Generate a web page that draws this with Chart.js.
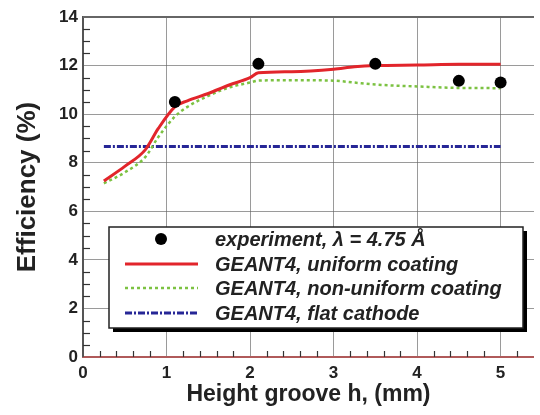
<!DOCTYPE html>
<html>
<head>
<meta charset="utf-8">
<script src="https://cdn.jsdelivr.net/npm/chart.js@4.4.1/dist/chart.umd.min.js"></script>
<style>
  html, body { margin: 0; padding: 0; background: #fff; overflow: hidden; }
  #wrap { width: 540px; height: 415px; }
</style>
</head>
<body>
<div id="wrap"><canvas id="c" width="540" height="415"></canvas></div>
<script>
// Measured efficiency at a neutron wavelength of 4.75 Å
const expHeights = [1.1, 2.1, 3.5, 4.5, 5.0];
const expEfficiency = [10.5, 12.07, 12.07, 11.37, 11.3];

// GEANT4 simulations versus groove height (mm)
const simHeights = [0.25, 0.5, 0.75, 0.9, 1.1, 1.25, 1.5, 1.75, 2.0, 2.1, 2.5, 3.0, 3.25, 3.5, 4.0, 4.5, 5.0];
const uniformCoating = [7.25, 7.85, 8.55, 9.4, 10.3, 10.55, 10.85, 11.2, 11.5, 11.7, 11.75, 11.85, 11.95, 12.0, 12.02, 12.05, 12.05];
const nonUniformCoating = [7.15, 7.6, 8.25, 9.05, 9.9, 10.3, 10.75, 11.1, 11.3, 11.38, 11.4, 11.38, 11.3, 11.22, 11.14, 11.08, 11.07];
const flatHeights = [0.25, 5.0];
const flatCathode = [8.67, 8.67];

// Axis ticks
const xTickValues = [0, 1, 2, 3, 4, 5];
const yTickValues = [0, 2, 4, 6, 8, 10, 12, 14];

const seriesLabels = [
  'experiment, \u03bb = 4.75 \u00c5',
  'GEANT4, uniform coating',
  'GEANT4, non-uniform coating',
  'GEANT4, flat cathode'
];

const FONT = '"Liberation Sans", Arial, Helvetica, sans-serif';
const pairs = (xs, ys) => xs.map((x, i) => ({ x, y: ys[i] }));

// Frame, minor ticks and the boxed legend with a drop shadow
const framePlugin = {
  id: 'frame',
  beforeDatasetsDraw(chart) {
    const { ctx, chartArea: a, scales: { x, y } } = chart;
    ctx.save();
    ctx.strokeStyle = '#333';
    ctx.lineWidth = 1.2;
    // minor ticks on the y axis, every 0.5
    for (let v = 0.5; v < 14; v += 0.5) {
      if (yTickValues.includes(v)) continue;
      const py = Math.round(y.getPixelForValue(v)) + 0.5;
      ctx.beginPath(); ctx.moveTo(a.left, py); ctx.lineTo(a.left + 7, py); ctx.stroke();
    }
    // minor ticks on the x axis, every 0.2
    for (let i = 1; i * 0.2 < x.max; i++) {
      const v = i * 0.2;
      if (Math.abs(v - Math.round(v)) < 1e-6) continue;
      const px = Math.round(x.getPixelForValue(v)) + 0.5;
      ctx.beginPath(); ctx.moveTo(px, a.bottom); ctx.lineTo(px, a.bottom - 6); ctx.stroke();
    }
    // top frame line
    ctx.strokeStyle = '#666';
    ctx.lineWidth = 2;
    ctx.beginPath(); ctx.moveTo(a.left, a.top); ctx.lineTo(a.right, a.top); ctx.stroke();
    ctx.restore();
  },
  afterDatasetsDraw(chart) {
    const { ctx } = chart;
    const box = { x: 109, y: 227, w: 414, h: 101 };
    ctx.save();
    // shadow
    ctx.fillStyle = '#000';
    ctx.fillRect(box.x + 4, box.y + 4, box.w, box.h);
    ctx.fillStyle = '#fff';
    ctx.fillRect(box.x, box.y, box.w, box.h);
    ctx.strokeStyle = '#222';
    ctx.lineWidth = 1.5;
    ctx.strokeRect(box.x, box.y, box.w, box.h);

    const rows = [239, 264, 288, 313];
    chart.data.datasets.forEach((ds, i) => {
      const ry = rows[i];
      if (ds.showLine === false) {
        ctx.fillStyle = ds.pointBackgroundColor;
        ctx.beginPath(); ctx.arc(161, ry, 6, 0, Math.PI * 2); ctx.fill();
      } else {
        ctx.strokeStyle = ds.borderColor;
        ctx.lineWidth = ds.borderWidth;
        ctx.setLineDash(ds.borderDash || []);
        ctx.beginPath(); ctx.moveTo(125, ry); ctx.lineTo(198, ry); ctx.stroke();
        ctx.setLineDash([]);
      }
      ctx.fillStyle = '#222';
      ctx.font = 'italic bold 20px ' + FONT;
      ctx.textBaseline = 'middle';
      ctx.textAlign = 'left';
      ctx.fillText(ds.label, 215, ry + 1);
    });
    ctx.restore();
  }
};

const gridColor = 'rgba(100,100,100,0.65)';

new Chart(document.getElementById('c'), {
  type: 'line',
  data: {
    datasets: [
      {
        label: seriesLabels[0],
        data: pairs(expHeights, expEfficiency),
        showLine: false,
        pointRadius: 6,
        pointBackgroundColor: '#000',
        pointBorderColor: '#000',
        pointBorderWidth: 0
      },
      {
        label: seriesLabels[1],
        data: pairs(simHeights, uniformCoating),
        borderColor: '#e2252b',
        borderWidth: 3,
        pointRadius: 0,
        cubicInterpolationMode: 'monotone'
      },
      {
        label: seriesLabels[2],
        data: pairs(simHeights, nonUniformCoating),
        borderColor: '#7cc242',
        borderWidth: 2.5,
        borderDash: [3, 3],
        pointRadius: 0,
        cubicInterpolationMode: 'monotone'
      },
      {
        label: seriesLabels[3],
        data: pairs(flatHeights, flatCathode),
        borderColor: '#262696',
        borderWidth: 3,
        borderDash: [7, 2, 2, 2],
        pointRadius: 0
      }
    ]
  },
  options: {
    responsive: false,
    animation: false,
    devicePixelRatio: 1,
    layout: { padding: { top: 17, right: 0, left: 0, bottom: 0 } },
    plugins: { legend: { display: false }, tooltip: { enabled: false } },
    scales: {
      x: {
        type: 'linear',
        min: 0,
        max: 5.4,
        afterFit: s => { s.height = 58; },
        afterBuildTicks: s => { s.ticks = xTickValues.map(v => ({ value: v })); },
        ticks: {
          font: { family: FONT, size: 17, weight: 'bold' },
          color: '#222',
          padding: 6,
          maxRotation: 0
        },
        grid: {
          color: gridColor,
          lineWidth: c => (c.tick && c.tick.value === 0 ? 0 : 1),
          drawTicks: false
        },
        border: { display: true, color: '#b05a5a', width: 2 },
        title: {
          display: true,
          text: 'Height groove h, (mm)',
          font: { family: FONT, size: 23, weight: 'bold' },
          color: '#222',
          padding: { top: 0, bottom: 7 }
        }
      },
      y: {
        min: 0,
        max: 14,
        afterFit: s => { s.width = 83; },
        afterBuildTicks: s => { s.ticks = yTickValues.map(v => ({ value: v })); },
        ticks: {
          font: { family: FONT, size: 17, weight: 'bold' },
          color: '#222',
          padding: 5
        },
        grid: {
          color: gridColor,
          lineWidth: c => (c.tick && (c.tick.value === 0 || c.tick.value === 14) ? 0 : 1),
          drawTicks: false
        },
        border: { display: true, color: '#555', width: 2 },
        title: {
          display: true,
          text: 'Efficiency (%)',
          font: { family: FONT, size: 26, weight: 'bold' },
          color: '#222',
          padding: { top: 12, bottom: 0 }
        }
      }
    }
  },
  plugins: [framePlugin]
});
</script>
</body>
</html>
